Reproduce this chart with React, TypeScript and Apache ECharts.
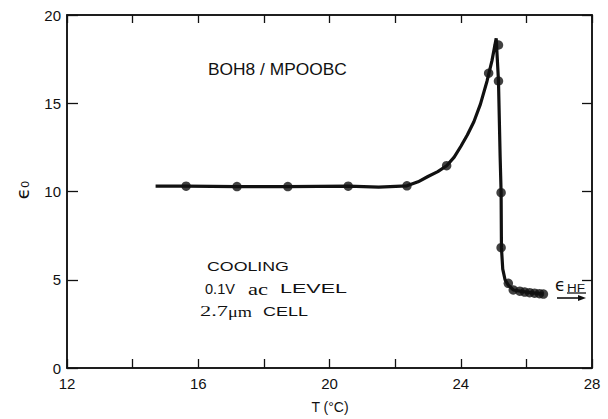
import React, { useEffect, useRef } from "react";
import * as echarts from "echarts";

// Smooth curve drawn through the measurements (T in °C, ε0)
const curveT = [14.7, 15.63, 17.18, 18.73, 20.57, 21.5, 22.36, 22.7, 23.0, 23.3, 23.57, 23.8, 24.0, 24.2, 24.4, 24.6, 24.8, 24.95, 25.08, 25.15, 25.2, 25.23, 25.24, 25.28, 25.35, 25.45, 25.6, 26.0, 26.52];
const curveV = [10.3, 10.3, 10.28, 10.28, 10.3, 10.25, 10.32, 10.55, 10.85, 11.13, 11.46, 11.95, 12.55, 13.2, 13.95, 14.95, 16.25, 17.4, 18.68, 16.26, 12.0, 9.93, 6.82, 5.6, 5.0, 4.7, 4.42, 4.3, 4.19];

// Measured points
const dotT = [15.63, 17.18, 18.73, 20.57, 22.36, 23.57, 24.85, 25.15, 25.15, 25.23, 25.23, 25.45, 25.6, 25.8, 25.95, 26.1, 26.25, 26.4, 26.52];
const dotV = [10.3, 10.28, 10.28, 10.3, 10.32, 11.46, 16.7, 18.3, 16.26, 9.93, 6.82, 4.8, 4.42, 4.35, 4.3, 4.27, 4.24, 4.21, 4.19];

const xMin = 12;
const xMax = 28;
const xStep = 2;
const xLabelStep = 4;
const yMin = 0;
const yMax = 20;
const yStep = 5;

const SANS = "Liberation Sans";
const SERIF = "Liberation Serif";
const INK = "#111";

function measure(text: string, size: number, family: string): number {
  try {
    const c = document.createElement("canvas").getContext("2d");
    if (!c) return 0;
    c.font = `${size}px "${family}"`;
    return c.measureText(text).width;
  } catch (e) {
    return 0;
  }
}

function label(text: string, left: number, midY: number, width: number, size: number, family: string) {
  const w = measure(text, size, family) || width;
  return {
    type: "text",
    x: left,
    y: midY,
    scaleX: width / w,
    style: { text, fontSize: size, fontFamily: family, fill: INK, align: "left", verticalAlign: "middle" },
    z: 10,
  };
}

export default function App() {
  const ref = useRef<HTMLDivElement>(null);

  useEffect(() => {
    if (!ref.current) return;
    const chart = echarts.init(ref.current, undefined, { renderer: "svg" });

    const axisLine = { show: true, onZero: false, lineStyle: { color: INK, width: 1.5 } };

    chart.setOption({
      animation: false,
      grid: { left: 67, right: 16, top: 15, bottom: 51, show: true, borderColor: INK, borderWidth: 1.5 },
      xAxis: [
        {
          type: "value",
          min: xMin,
          max: xMax,
          interval: xStep,
          position: "bottom",
          axisLine,
          axisTick: { show: true, inside: true, length: 9, lineStyle: { color: INK, width: 1.3 } },
          splitLine: { show: false },
          axisLabel: {
            fontSize: 15,
            color: INK,
            margin: 8,
            formatter: (v: number) => (v % xLabelStep === 0 ? String(v) : ""),
          },
        },
        {
          type: "value",
          min: xMin,
          max: xMax,
          interval: xStep,
          position: "top",
          axisLine,
          axisTick: { show: true, inside: true, length: 8, lineStyle: { color: INK, width: 1.3 } },
          splitLine: { show: false },
          axisLabel: { show: true, fontSize: 1, margin: 0, color: "rgba(0,0,0,0)" },
        },
      ],
      yAxis: [
        {
          type: "value",
          min: yMin,
          max: yMax,
          interval: yStep,
          position: "left",
          axisLine,
          axisTick: { show: true, inside: true, length: 11, lineStyle: { color: INK, width: 1.3 } },
          splitLine: { show: false },
          axisLabel: { fontSize: 15, color: INK, margin: 6 },
        },
        {
          type: "value",
          min: yMin,
          max: yMax,
          interval: yStep,
          position: "right",
          axisLine,
          axisTick: { show: true, inside: true, length: 10, lineStyle: { color: INK, width: 1.3 } },
          splitLine: { show: false },
          axisLabel: { show: true, fontSize: 1, margin: 0, color: "rgba(0,0,0,0)" },
        },
      ],
      series: [
        {
          type: "line",
          data: curveT.map((t, i) => [t, curveV[i]]),
          showSymbol: false,
          lineStyle: { color: INK, width: 3.2 },
        },
        {
          type: "scatter",
          data: dotT.map((t, i) => [t, dotV[i]]),
          symbolSize: 9.5,
          itemStyle: { color: INK },
        },
      ],
      graphic: [
        { type: "text", x: 330, y: 407, style: { text: "T (°C)", fontSize: 14, fontFamily: SANS, fill: INK, align: "center", verticalAlign: "middle" } },
        { type: "text", x: 22, y: 190, rotation: Math.PI / 2, style: { text: "ϵ₀", fontSize: 18, fontFamily: "DejaVu Sans", fill: INK, align: "center", verticalAlign: "middle" } },
        label("BOH8 / MPOOBC", 208, 70, 139, 16, SANS),
        label("COOLING", 207, 266, 82, 13, SANS),
        label("0.1V", 205, 289, 30, 14, SANS),
        label("ac", 248, 290, 20, 16, SERIF),
        label("LEVEL", 280, 289, 67, 13, SANS),
        label("2.7", 200, 311, 28, 15, SERIF),
        label("μm", 228, 312, 24, 15, SERIF),
        label("CELL", 263, 311, 45, 13, SANS),
        { type: "text", x: 555, y: 285, style: { text: "ϵ", fontSize: 17, fontFamily: "DejaVu Sans", fill: INK, align: "left", verticalAlign: "middle" } },
        label("HF", 567, 288, 18, 11, SANS),
        { type: "line", shape: { x1: 567, y1: 293, x2: 586, y2: 293 }, style: { stroke: INK, lineWidth: 1.3 } },
        { type: "line", shape: { x1: 557, y1: 298, x2: 580, y2: 298 }, style: { stroke: INK, lineWidth: 1.6 } },
        { type: "polygon", shape: { points: [[586, 298], [578, 295], [578, 301]] }, style: { fill: INK } },
      ],
    });

    return () => chart.dispose();
  }, []);

  return <div ref={ref} style={{ position: "fixed", left: 0, top: 0, width: 608, height: 419, background: "#fff" }} />;
}
